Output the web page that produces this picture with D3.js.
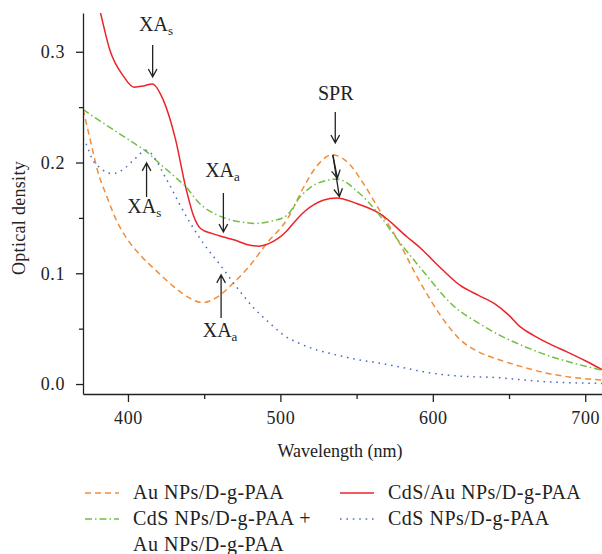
<!DOCTYPE html>
<html>
<head>
<meta charset="utf-8">
<script src="https://cdn.jsdelivr.net/npm/d3@7"></script>
<style>
  body { margin: 0; background: #fff; }
  text { font-family: "Liberation Serif", "Times New Roman", serif; fill: #222; }
</style>
</head>
<body>
<div id="chart"></div>
<script>
// UV-vis spectra, optical density vs wavelength

const width = 602,
  height = 554;

// Au NPs/D-g-PAA
const auWl = [370.5, 375, 380, 386.5, 392, 398, 408, 418, 430, 440, 449, 458, 469, 480, 491, 505, 515, 524, 534, 545, 554, 565, 577, 592, 605, 618, 630, 644, 660, 675, 692, 711];
const auOd = [0.248, 0.222, 0.193, 0.168, 0.149, 0.134, 0.1165, 0.103, 0.088, 0.078, 0.0735, 0.078, 0.091, 0.107, 0.127, 0.150, 0.177, 0.197, 0.207, 0.199, 0.182, 0.157, 0.130, 0.091, 0.062, 0.040, 0.029, 0.0217, 0.015, 0.0097, 0.006, 0.0036];

// CdS/Au NPs/D-g-PAA
const cdsAuWl = [376, 382, 388, 397, 404, 410, 416, 423, 431, 438, 443, 448, 455, 462, 470, 478, 486, 492, 498, 504, 510, 516, 522, 528, 537, 550, 565, 583, 592, 605, 618, 630, 640, 650, 657, 666, 677, 688, 700, 711];
const cdsAuOd = [0.37, 0.335, 0.302, 0.278, 0.268, 0.269, 0.271, 0.257, 0.222, 0.177, 0.152, 0.140, 0.136, 0.133, 0.130, 0.126, 0.1245, 0.1265, 0.131, 0.138, 0.1475, 0.156, 0.162, 0.166, 0.168, 0.163, 0.154, 0.133, 0.1226, 0.105, 0.089, 0.080, 0.073, 0.062, 0.052, 0.044, 0.036, 0.029, 0.021, 0.013];

// CdS NPs/D-g-PAA + Au NPs/D-g-PAA
const mixWl = [370.5, 374, 385, 395, 405, 412, 420, 430, 438, 447, 458, 468, 476, 484, 494, 504, 513, 524, 537, 552, 563, 576, 593, 614, 630, 644, 660, 675, 692, 711];
const mixOd = [0.248, 0.2445, 0.2345, 0.2255, 0.2165, 0.210, 0.200, 0.188, 0.178, 0.163, 0.153, 0.148, 0.146, 0.145, 0.147, 0.152, 0.169, 0.181, 0.185, 0.172, 0.156, 0.132, 0.103, 0.070, 0.055, 0.044, 0.034, 0.026, 0.019, 0.0125];

// CdS NPs/D-g-PAA
const cdsWl = [370.5, 372.5, 377, 382, 386, 390, 398, 405, 412, 418, 424, 428, 434, 441, 450, 460.5, 473.6, 483, 493, 502, 512, 522, 533, 544, 555, 566, 580, 594, 610, 625, 640, 657, 675, 690, 711];
const cdsOd = [0.222, 0.217, 0.202, 0.195, 0.191, 0.190, 0.195, 0.204, 0.211, 0.203, 0.188, 0.178, 0.162, 0.145, 0.126, 0.1075, 0.0834, 0.068, 0.055, 0.0443, 0.037, 0.0316, 0.0275, 0.024, 0.021, 0.0187, 0.015, 0.011, 0.008, 0.0066, 0.006, 0.004, 0.002, 0.0012, 0.0005];

const xMajor = [400, 500, 600, 700];
const xMinor = [450, 550, 650];
const yMajor = [0, 0.1, 0.2, 0.3];
const yMinor = [0.05, 0.15, 0.25];

const series = [
  { name: "Au NPs/D-g-PAA", wl: auWl, od: auOd, color: "#f28c38", dash: "6,4" },
  { name: "CdS/Au NPs/D-g-PAA", wl: cdsAuWl, od: cdsAuOd, color: "#ec2329", dash: null },
  { name: "CdS NPs/D-g-PAA +", name2: "Au NPs/D-g-PAA", wl: mixWl, od: mixOd, color: "#72bf44", dash: "7,3,1.5,3" },
  { name: "CdS NPs/D-g-PAA", wl: cdsWl, od: cdsOd, color: "#4d6cc4", dash: "1.6,4.8" }
];

// annotation arrows, in data units (wavelength, optical density)
const labels = [
  { main: "XA", sub: "s", w: 418.4, v: 0.319 },
  { main: "SPR", sub: "", w: 536.3, v: 0.2569 },
  { main: "XA", sub: "a", w: 462, v: 0.187 },
  { main: "XA", sub: "s", w: 410.7, v: 0.1545 },
  { main: "XA", sub: "a", w: 460.4, v: 0.0425 }
];
const arrows = [
  [416.2, 0.3062, 416.2, 0.2773],
  [536, 0.2457, 536, 0.2177],
  [534.4, 0.2069, 537.4, 0.1858],
  [534.4, 0.2069, 538.7, 0.1692],
  [462.6, 0.1725, 462.6, 0.1373],
  [412.2, 0.1689, 412.2, 0.1996],
  [461.1, 0.0596, 461.1, 0.0985]
];

const margin = { top: 13, left: 83, bottom: 394 };

const x = d3.scaleLinear().domain([370.5, 711]).range([margin.left, width]);
const y = d3.scaleLinear().domain([-0.009, 0.335]).range([margin.bottom, margin.top]);

const svg = d3.select("#chart")
  .append("svg")
  .attr("width", width)
  .attr("height", height)
  .attr("viewBox", [0, 0, width, height]);

svg.append("clipPath")
  .attr("id", "plot-clip")
  .append("rect")
  .attr("x", margin.left)
  .attr("y", margin.top)
  .attr("width", width - margin.left)
  .attr("height", margin.bottom - margin.top);

const line = d3.line()
  .x(d => x(d[0]))
  .y(d => y(d[1]))
  .curve(d3.curveMonotoneX);

svg.append("g")
  .attr("clip-path", "url(#plot-clip)")
  .selectAll("path")
  .data(series)
  .join("path")
  .attr("fill", "none")
  .attr("stroke", d => d.color)
  .attr("stroke-width", 1.5)
  .attr("stroke-dasharray", d => d.dash)
  .attr("d", d => line(d.wl.map((w, i) => [w, d.od[i]])));

// axes
svg.append("g")
  .attr("transform", `translate(0,${margin.bottom})`)
  .call(d3.axisBottom(x).tickValues(xMajor).tickSize(8).tickPadding(9).tickSizeOuter(0));
svg.append("g")
  .attr("transform", `translate(0,${margin.bottom})`)
  .call(d3.axisBottom(x).tickValues(xMinor).tickSize(5).tickFormat("").tickSizeOuter(0))
  .select(".domain").remove();

svg.append("g")
  .attr("transform", `translate(${margin.left},0)`)
  .call(d3.axisLeft(y).tickValues(yMajor).tickSize(7).tickPadding(11).tickSizeOuter(0).tickFormat(d3.format(".1f")));
svg.append("g")
  .attr("transform", `translate(${margin.left},0)`)
  .call(d3.axisLeft(y).tickValues(yMinor).tickSize(4).tickFormat("").tickSizeOuter(0))
  .select(".domain").remove();

svg.selectAll(".domain, .tick line").attr("stroke", "#222").attr("stroke-width", 1.3);
svg.selectAll(".tick text")
  .attr("font-family", "Liberation Serif, serif")
  .attr("font-size", 18)
  .attr("letter-spacing", 0.6)
  .attr("fill", "#333");

svg.append("text")
  .attr("transform", `translate(25,218) rotate(-90)`)
  .attr("text-anchor", "middle")
  .attr("font-size", 18)
  .attr("letter-spacing", 0.3)
  .text("Optical density");

svg.append("text")
  .attr("x", 340)
  .attr("y", 457)
  .attr("text-anchor", "middle")
  .attr("font-size", 18)
  .text("Wavelength (nm)");

// annotations
const ann = svg.append("g").attr("stroke", "#222").attr("stroke-width", 1.3).attr("fill", "none");
for (const [w1, v1, w2, v2] of arrows) {
  const x1 = x(w1), y1 = y(v1), x2 = x(w2), y2 = y(v2);
  const a = Math.atan2(y2 - y1, x2 - x1), len = 9, spread = 0.5;
  ann.append("path")
    .attr("d", `M${x1},${y1}L${x2},${y2}` +
      `M${x2 - len * Math.cos(a - spread)},${y2 - len * Math.sin(a - spread)}L${x2},${y2}` +
      `L${x2 - len * Math.cos(a + spread)},${y2 - len * Math.sin(a + spread)}`);
}

const lab = svg.append("g")
  .selectAll("text")
  .data(labels)
  .join("text")
  .attr("x", d => x(d.w))
  .attr("y", d => y(d.v))
  .attr("text-anchor", "middle")
  .attr("font-size", 20);
lab.append("tspan").text(d => d.main);
lab.append("tspan").attr("font-size", 13).attr("dy", 4).text(d => d.sub);

// legend
const legendPos = [
  { sx: 85, tx: 133, ty: 493 },
  { sx: 340, tx: 388, ty: 493 },
  { sx: 85, tx: 133, ty: 519 },
  { sx: 340, tx: 388, ty: 519 }
];
const legend = svg.append("g")
  .selectAll("g")
  .data(series)
  .join("g")
  .attr("transform", (d, i) => `translate(0,${legendPos[i].ty})`);
legend.append("line")
  .attr("x1", (d, i) => legendPos[i].sx)
  .attr("x2", (d, i) => legendPos[i].sx + 34)
  .attr("stroke", d => d.color)
  .attr("stroke-width", 1.5)
  .attr("stroke-dasharray", d => d.dash);
legend.append("text")
  .attr("x", (d, i) => legendPos[i].tx)
  .attr("y", 6)
  .attr("font-size", 20)
  .attr("letter-spacing", 0.5)
  .text(d => d.name);
legend.filter(d => d.name2)
  .append("text")
  .attr("x", 133)
  .attr("y", 32)
  .attr("font-size", 20)
  .attr("letter-spacing", 0.5)
  .text(d => d.name2);
</script>
</body>
</html>
